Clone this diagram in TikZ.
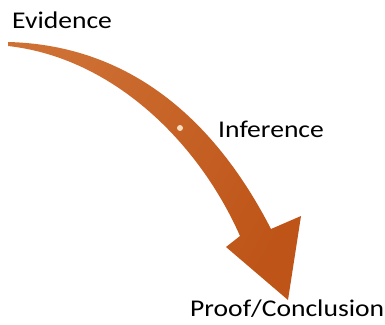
\documentclass[tikz,border=0pt]{standalone}
\usepackage{fontspec}
\newfontfamily\labelfont[FakeStretch=1.15]{Carlito}
\definecolor{arrowbrown}{RGB}{190,84,24}
\definecolor{arrowlight}{RGB}{206,112,52}
\definecolor{dotpeach}{RGB}{252,222,190}
\begin{document}
\begin{tikzpicture}[x=1pt, y=-1pt,
    lbl/.style={anchor=base west, inner sep=0pt, font=\labelfont\fontsize{24}{27}\selectfont}]
  \useasboundingbox (0,0) rectangle (385,324);
  % curved arrow from evidence down to the conclusion
  \shade[left color=arrowlight, right color=arrowbrown, shading angle=60]
    (8,42) .. controls (130,45) and (215,120) .. (271,229)
    -- (301,216) -- (288,300) -- (226,247) -- (240,236)
    .. controls (200,145) and (115,58) .. (8,46) -- cycle;
  \fill[dotpeach] (180,128) circle (3);
  \node[lbl] (evid) at (12,28) {Evidence};
  \node[lbl] (infer) at (218,137) {Inference};
  \node[lbl] (concl) at (190,316) {Proof/Conclusion};
\end{tikzpicture}
\end{document}
